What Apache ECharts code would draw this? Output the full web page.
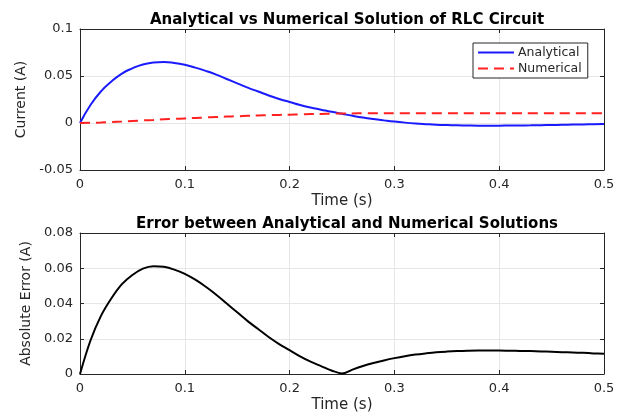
<!DOCTYPE html>
<html lang="en">
<head>
  <meta charset="UTF-8">
  <title>RLC Circuit: Analytical vs Numerical</title>
  <style>
    html, body { margin: 0; padding: 0; background: #fff; }
    #chart { width: 627px; height: 415px; }
  </style>
  <script src="https://cdn.jsdelivr.net/npm/echarts@6/dist/echarts.min.js"></script>
</head>
<body>
  <div id="chart"></div>
  <script>
    // sample times (s)
    const timeSec = [
      0, 0.01, 0.02, 0.03, 0.04, 0.05, 0.06, 0.07, 0.08, 0.09,
      0.10, 0.11, 0.12, 0.13, 0.14, 0.15, 0.16, 0.17, 0.18, 0.19,
      0.20, 0.21, 0.22, 0.23, 0.24, 0.25, 0.26, 0.27, 0.28, 0.29,
      0.30, 0.31, 0.32, 0.33, 0.34, 0.35, 0.36, 0.37, 0.38, 0.39,
      0.40, 0.41, 0.42, 0.43, 0.44, 0.45, 0.46, 0.47, 0.48, 0.49, 0.50
    ];

    // current, analytical (A)
    const analytical = [
      0, 0.0192, 0.0336, 0.0441, 0.0526, 0.0582, 0.0623, 0.0643, 0.0649, 0.0639,
      0.0619, 0.0589, 0.0554, 0.0514, 0.0468, 0.0422, 0.0376, 0.0335, 0.0293, 0.0256,
      0.0224, 0.0192, 0.0165, 0.0142, 0.0119, 0.0098, 0.0077, 0.0058, 0.0042, 0.0028,
      0.0015, 0.0004, -0.0005, -0.0012, -0.0018, -0.0022, -0.0025, -0.0027, -0.0028, -0.0028,
      -0.0028, -0.0027, -0.0026, -0.0025, -0.0023, -0.0021, -0.0019, -0.0017, -0.0015, -0.0012, -0.0010
    ];

    // current, numerical (A)
    const numerical = [
      0, 0.0002, 0.0006, 0.0011, 0.0016, 0.0022, 0.0028, 0.0033, 0.0039, 0.0044,
      0.0049, 0.0054, 0.0059, 0.0064, 0.0068, 0.0072, 0.0076, 0.0080, 0.0083, 0.0086,
      0.0089, 0.0092, 0.0095, 0.0097, 0.0099, 0.0101, 0.0102, 0.0103, 0.0104, 0.0105,
      0.0105, 0.0105, 0.0105, 0.0105, 0.0105, 0.0105, 0.0105, 0.0105, 0.0105, 0.0105,
      0.0105, 0.0105, 0.0105, 0.0105, 0.0105, 0.0105, 0.0105, 0.0105, 0.0105, 0.0105, 0.0105
    ];

    // absolute error (A)
    const absError = [
      0, 0.0190, 0.0330, 0.0430, 0.0510, 0.0562, 0.0598, 0.0612, 0.0608, 0.0592,
      0.0568, 0.0535, 0.0495, 0.0450, 0.0400, 0.0350, 0.0300, 0.0255, 0.0210, 0.0170,
      0.0135, 0.0100, 0.0070, 0.0045, 0.0020, 0.0003, 0.0025, 0.0045, 0.0062, 0.0077,
      0.0090, 0.0101, 0.0110, 0.0117, 0.0123, 0.0127, 0.0130, 0.0132, 0.0133, 0.0133,
      0.0133, 0.0132, 0.0131, 0.0130, 0.0128, 0.0126, 0.0124, 0.0122, 0.0120, 0.0117, 0.0115
    ];

    const pairs = vals => timeSec.map((t, i) => [t, vals[i]]);

    const ink = '#262626';
    const font = '"DejaVu Sans", sans-serif';

    function mainX(grid) {
      return {
        type: 'value', gridIndex: grid, min: 0, max: 0.5, interval: 0.1,
        name: 'Time (s)', nameLocation: 'middle', nameGap: 24,
        nameTextStyle: { color: ink, fontSize: 15, fontFamily: font },
        axisLine: { onZero: false, lineStyle: { color: ink } },
        axisTick: { inside: true, length: 4, lineStyle: { color: ink } },
        axisLabel: { color: ink, fontSize: 13, fontFamily: font, margin: 8 },
        splitLine: { show: true, lineStyle: { color: '#e6e6e6' } }
      };
    }
    function sideX(grid) {
      return {
        type: 'value', gridIndex: grid, min: 0, max: 0.5, interval: 0.1, position: 'top',
        axisLine: { onZero: false, lineStyle: { color: ink } },
        axisTick: { inside: true, length: 4, lineStyle: { color: ink } },
        axisLabel: { show: false }, splitLine: { show: false }
      };
    }
    function mainY(grid, min, max, step, name, gap) {
      return {
        type: 'value', gridIndex: grid, min: min, max: max, interval: step,
        name: name, nameLocation: 'middle', nameGap: gap,
        nameTextStyle: { color: ink, fontSize: 14, fontFamily: font },
        axisLine: { show: true, onZero: false, lineStyle: { color: ink } },
        axisTick: { show: true, inside: true, length: 4, lineStyle: { color: ink } },
        axisLabel: { color: ink, fontSize: 13, fontFamily: font, margin: 7 },
        splitLine: { show: true, lineStyle: { color: '#e6e6e6' } }
      };
    }
    function sideY(grid, min, max, step) {
      return {
        type: 'value', gridIndex: grid, min: min, max: max, interval: step, position: 'right',
        axisLine: { show: true, onZero: false, lineStyle: { color: ink } },
        axisTick: { show: true, inside: true, length: 4, lineStyle: { color: ink } },
        axisLabel: { show: false }, splitLine: { show: false }
      };
    }

    const chart = echarts.init(document.getElementById('chart'));
    chart.setOption({
      backgroundColor: '#fff',
      animation: false,
      title: [
        {
          text: 'Analytical vs Numerical Solution of RLC Circuit',
          left: 342, top: 8, textAlign: 'center',
          textStyle: { fontSize: 15, fontWeight: 'bold', color: '#000', fontFamily: font }
        },
        {
          text: 'Error between Analytical and Numerical Solutions',
          left: 342, top: 212, textAlign: 'center',
          textStyle: { fontSize: 15, fontWeight: 'bold', color: '#000', fontFamily: font }
        }
      ],
      legend: {
        left: 473, top: 43, orient: 'vertical',
        data: ['Analytical', 'Numerical'],
        backgroundColor: '#fff', borderColor: ink, borderWidth: 1,
        padding: [3, 6, 3, 4], itemGap: 3, itemWidth: 36, itemHeight: 12,
        itemStyle: { opacity: 0 },
        textStyle: { color: ink, fontSize: 12.5, fontFamily: font, padding: [0, 0, 0, -1] }
      },
      grid: [
        { left: 80, top: 29, width: 524, height: 141 },
        { left: 80, top: 233, width: 524, height: 141 }
      ],
      xAxis: [mainX(0), sideX(0), mainX(1), sideX(1)],
      yAxis: [
        mainY(0, -0.05, 0.1, 0.05, 'Current (A)', 50),
        sideY(0, -0.05, 0.1, 0.05),
        mainY(1, 0, 0.08, 0.02, 'Absolute Error (A)', 45),
        sideY(1, 0, 0.08, 0.02)
      ],
      series: [
        {
          name: 'Analytical', type: 'line', xAxisIndex: 0, yAxisIndex: 0,
          data: pairs(analytical), smooth: true, showSymbol: false, symbol: 'none',
          lineStyle: { color: '#1a1aff', width: 2 }, itemStyle: { color: '#1a1aff' }, z: 3
        },
        {
          name: 'Numerical', type: 'line', xAxisIndex: 0, yAxisIndex: 0,
          data: pairs(numerical), smooth: true, showSymbol: false, symbol: 'none',
          lineStyle: { color: '#ff2020', width: 2, type: [10, 6] }, itemStyle: { color: '#ff2020' }, z: 4
        },
        {
          name: 'Absolute Error', type: 'line', xAxisIndex: 2, yAxisIndex: 2,
          data: pairs(absError), smooth: 0.35, showSymbol: false, symbol: 'none',
          lineStyle: { color: '#000', width: 2 }
        }
      ]
    });
  </script>
</body>
</html>
